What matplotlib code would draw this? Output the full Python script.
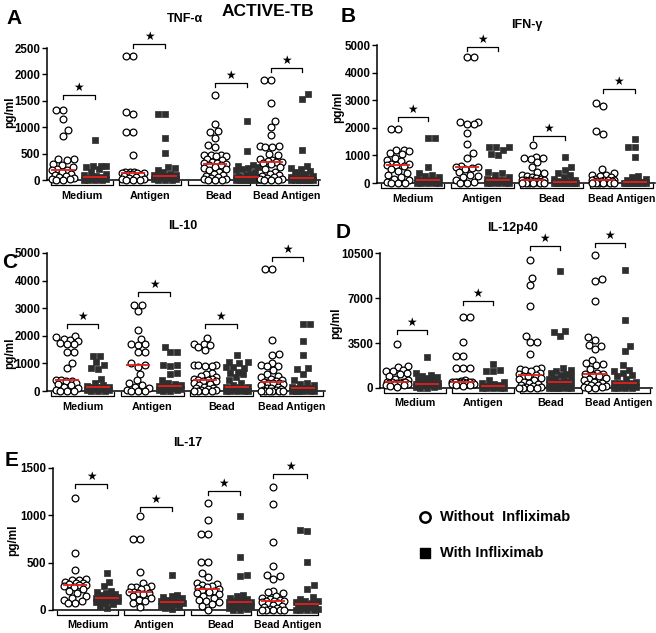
import matplotlib
matplotlib.use('Agg')
import matplotlib.pyplot as plt
import numpy as np
from matplotlib.transforms import ScaledTranslation

plt.rcParams['font.family'] = ['Liberation Sans', 'DejaVu Sans']

W, H = 656, 633

groups = ['Medium', 'Antigen', 'Bead', 'Bead Antigen']

# ---------------- data (pg/ml) ----------------
tnf_without = [
    [1320, 1320, 1150, 940, 840, 400, 390, 380, 300, 280, 250, 200, 190, 180, 150, 120, 100, 80, 60, 40, 20, 10, 5, 0],
    [2340, 2340, 1290, 1250, 910, 910, 470, 160, 150, 150, 140, 140, 130, 120, 110, 100, 80, 60, 40, 20, 10, 0, 0, 0],
    [1610, 1060, 920, 900, 800, 670, 630, 480, 470, 470, 460, 450, 400, 380, 350, 330, 320, 300, 290, 280, 250, 220, 200, 180, 150, 120, 100, 80, 60, 40, 20, 10, 0, 0, 0],
    [1900, 1900, 1450, 1110, 1000, 850, 650, 640, 630, 620, 500, 470, 400, 380, 360, 350, 340, 330, 300, 250, 200, 150, 120, 100, 80, 60, 40, 20, 10, 0, 0, 0],
]
tnf_with = [
    [760, 270, 270, 260, 250, 200, 150, 120, 100, 80, 60, 40, 30, 30, 20, 20, 10, 10, 5, 0, 0, 0],
    [1245, 1245, 790, 520, 250, 220, 180, 150, 120, 100, 90, 80, 70, 60, 50, 40, 30, 20, 10, 0, 0, 0],
    [1110, 540, 280, 260, 250, 230, 200, 180, 150, 120, 100, 80, 60, 50, 45, 40, 30, 20, 15, 10, 5, 0, 0, 0, 0, 0, 0],
    [1630, 1540, 570, 270, 220, 200, 170, 150, 120, 100, 80, 60, 40, 30, 30, 20, 10, 10, 5, 0, 0, 0, 0, 0, 0],
]
ifn_without = [
    [1950, 1950, 1200, 1200, 1150, 1080, 1050, 900, 850, 800, 700, 680, 650, 640, 600, 500, 450, 350, 300, 200, 150, 100, 50, 0, 0, 0],
    [4550, 4550, 2220, 2200, 2150, 2130, 1820, 1430, 1070, 920, 600, 590, 580, 560, 500, 400, 300, 250, 200, 100, 50, 0, 0],
    [1370, 950, 920, 900, 870, 760, 580, 400, 350, 300, 250, 200, 180, 150, 120, 110, 100, 100, 90, 80, 60, 50, 40, 30, 20, 10, 0, 0, 0, 0, 0],
    [2900, 2780, 1880, 1760, 500, 350, 300, 280, 250, 200, 150, 120, 110, 100, 100, 90, 80, 60, 40, 20, 10, 0, 0, 0, 0, 0],
]
ifn_with = [
    [1620, 1620, 580, 380, 300, 250, 200, 150, 120, 100, 100, 90, 80, 50, 30, 20, 10, 0, 0, 0, 0],
    [1320, 1300, 1290, 1200, 1050, 1020, 400, 350, 300, 200, 150, 120, 100, 100, 90, 80, 60, 40, 20, 0, 0, 0, 0, 0],
    [950, 580, 460, 350, 300, 200, 150, 100, 80, 60, 40, 35, 30, 20, 10, 0, 0, 0, 0, 0, 0, 0, 0],
    [1580, 1310, 1300, 940, 250, 200, 150, 100, 50, 40, 35, 30, 20, 10, 0, 0, 0, 0, 0, 0, 0],
]
il10_without = [
    [1980, 1950, 1900, 1850, 1820, 1750, 1720, 1700, 1420, 1400, 1030, 830, 400, 390, 380, 350, 300, 250, 200, 150, 100, 50, 0, 0, 0],
    [3110, 3100, 2890, 2200, 1900, 1720, 1700, 1660, 1420, 1400, 1000, 930, 870, 630, 400, 300, 200, 150, 100, 50, 0, 0, 0],
    [1930, 1720, 1700, 1650, 1580, 1480, 960, 950, 940, 920, 900, 640, 600, 530, 500, 450, 420, 400, 390, 380, 350, 300, 250, 200, 150, 120, 100, 80, 50, 20, 0, 0, 0, 0],
    [4430, 4430, 1840, 1350, 1300, 1000, 950, 920, 900, 750, 600, 550, 500, 450, 400, 350, 320, 300, 290, 280, 250, 200, 150, 120, 100, 80, 50, 30, 0, 0, 0, 0, 0, 0],
]
il10_with = [
    [1280, 1260, 1050, 930, 820, 800, 450, 300, 200, 180, 160, 150, 140, 120, 100, 80, 60, 40, 20, 0, 0, 0],
    [1590, 1420, 1400, 940, 930, 920, 640, 620, 400, 300, 250, 200, 180, 170, 160, 150, 120, 100, 80, 60, 40, 20, 0, 0],
    [1300, 1060, 1050, 1000, 880, 860, 850, 700, 650, 600, 500, 400, 300, 200, 145, 140, 130, 120, 110, 100, 80, 60, 40, 20, 0, 0, 0, 0, 0],
    [2420, 2410, 1810, 1290, 820, 800, 630, 400, 300, 250, 200, 150, 120, 110, 100, 80, 60, 40, 20, 0, 0, 0, 0, 0, 0],
]
il12_without = [
    [3420, 1700, 1600, 1400, 1350, 1300, 1200, 1100, 900, 700, 600, 500, 450, 440, 430, 420, 400, 380, 350, 300, 250, 200, 150, 100],
    [5500, 5500, 3550, 2460, 2460, 1560, 1560, 1560, 600, 550, 500, 480, 470, 460, 450, 430, 400, 380, 350, 300, 250, 200, 150],
    [9980, 8560, 8040, 6400, 4020, 3600, 3560, 2650, 1560, 1500, 1450, 1400, 1300, 1200, 1100, 1000, 960, 900, 800, 700, 600, 500, 400, 300, 200, 150, 100, 50, 0, 0, 0, 0],
    [10320, 8450, 8350, 6740, 3940, 3760, 3320, 3300, 3000, 2200, 1950, 1900, 1800, 1500, 1200, 1120, 1100, 1000, 900, 800, 700, 600, 500, 400, 300, 250, 200, 150, 100, 50, 0, 0],
]
il12_with = [
    [2410, 1170, 1000, 900, 850, 800, 700, 600, 500, 400, 350, 320, 310, 300, 250, 200, 150, 100, 50, 0, 0],
    [1870, 1400, 1350, 1300, 600, 500, 400, 300, 200, 150, 130, 120, 100, 80, 50, 30, 0, 0, 0, 0],
    [9130, 4460, 4360, 4070, 1560, 1400, 1300, 1200, 1100, 1000, 900, 800, 700, 600, 500, 450, 440, 430, 400, 350, 300, 250, 200, 150, 100, 50, 0, 0, 0, 0, 0, 0],
    [9200, 5260, 3240, 2900, 1760, 1430, 1300, 1170, 1000, 900, 700, 500, 400, 390, 380, 300, 250, 200, 150, 100, 50, 0, 0, 0, 0],
]
il17_without = [
    [1180, 600, 420, 330, 320, 320, 300, 290, 280, 270, 265, 260, 250, 240, 220, 200, 180, 150, 130, 110, 100, 70, 70],
    [995, 750, 750, 405, 280, 250, 245, 240, 230, 220, 190, 185, 180, 175, 170, 150, 130, 110, 90, 70, 35],
    [1135, 955, 805, 800, 510, 505, 395, 350, 280, 270, 260, 250, 240, 230, 220, 210, 200, 190, 180, 170, 150, 130, 110, 100, 80, 60, 40, 0],
    [1295, 1120, 715, 460, 365, 355, 325, 200, 190, 180, 150, 130, 120, 110, 100, 95, 90, 80, 70, 60, 50, 40, 30, 20, 10, 0, 0, 0, 0, 0],
]
il17_with = [
    [395, 300, 250, 200, 190, 180, 170, 160, 150, 140, 130, 125, 120, 110, 100, 90, 80, 70, 60, 40, 20],
    [375, 160, 150, 140, 130, 110, 100, 90, 85, 80, 75, 70, 60, 50, 40, 30, 20, 10],
    [995, 565, 365, 360, 160, 150, 130, 120, 110, 100, 90, 85, 80, 75, 70, 60, 50, 40, 30, 20, 10, 0, 0],
    [850, 830, 510, 260, 225, 140, 120, 100, 90, 80, 70, 65, 60, 50, 40, 30, 20, 10, 0, 0, 0, 0],
]

# significance bracket heights (pg/ml)
tnf_sig = [1615, 2575, 1835, 2120]
ifn_sig = [2400, 4940, 1695, 3390]
il10_sig = [2440, 3590, 2440, 4855]
il12_sig = [4485, 6740, 11020, 11280]
il17_sig = [1335, 1087, 1260, 1440]

tnf_ticks = [0, 500, 1000, 1500, 2000, 2500]
ifn_ticks = [0, 1000, 2000, 3000, 4000, 5000]
il10_ticks = [0, 1000, 2000, 3000, 4000, 5000]
il12_ticks = [0, 3500, 7000, 10500]
il17_ticks = [0, 500, 1000, 1500]

panels = [
    dict(letter='A', title='TNF-α', wo=tnf_without, w=tnf_with, sig=tnf_sig, ticks=tnf_ticks,
         box=(47, 48, 320, 180), cx=[0.23, 1.26, 2.46, 3.28], sx=[0.70, 1.73, 2.93, 3.74],
         let_xy=(14, 19), tit_xy=(185, 19), yl_xy=(10, 112)),
    dict(letter='B', title='IFN-γ', wo=ifn_without, w=ifn_with, sig=ifn_sig, ticks=ifn_ticks,
         box=(377, 45, 655, 183), cx=[0.30, 1.29, 2.24, 3.25], sx=[0.73, 1.74, 2.70, 3.71],
         let_xy=(348, 16), tit_xy=(527, 25), yl_xy=(338, 107)),
    dict(letter='C', title='IL-10', wo=il10_without, w=il10_with, sig=il10_sig, ticks=il10_ticks,
         box=(47, 253, 325, 391), cx=[0.29, 1.31, 2.27, 3.24], sx=[0.73, 1.77, 2.73, 3.68],
         let_xy=(10, 262), tit_xy=(183, 226), yl_xy=(10, 353)),
    dict(letter='D', title='IL-12p40', wo=il12_without, w=il12_with, sig=il12_sig, ticks=il12_ticks,
         box=(380, 253, 652, 388), cx=[0.25, 1.22, 2.20, 3.16], sx=[0.69, 1.66, 2.65, 3.60],
         let_xy=(343, 233), tit_xy=(513, 228), yl_xy=(336, 323)),
    dict(letter='E', title='IL-17', wo=il17_without, w=il17_with, sig=il17_sig, ticks=il17_ticks,
         box=(53, 468, 320, 610), cx=[0.33, 1.30, 2.32, 3.30], sx=[0.81, 1.78, 2.80, 3.81],
         let_xy=(12, 460), tit_xy=(188, 443), yl_xy=(13, 540)),
]

fig = plt.figure(figsize=(W / 100, H / 100), dpi=100)


def fx(px):
    return px / W


def fy(py):
    return 1 - py / H


def find_offset(y, placed, d, maxoff):
    best_c, best_md = 0.0, -1.0
    k = 0
    flip = len(placed) % 2 == 1
    while k * 0.5 <= maxoff:
        cands = [0.0] if k == 0 else [k * 0.5, -k * 0.5]
        if flip:
            cands = cands[::-1]
        for c in cands:
            md = min([np.hypot(c - px, y - py) for px, py in placed] + [1e9])
            if md >= d:
                return c
            if md > best_md + 1e-9:
                best_md, best_c = md, c
        k += 1
    return best_c


def swarm(vals, ppu_y, d, maxoff):
    vals = np.asarray(vals, float)
    order = np.argsort(vals, kind='stable')
    placed = []
    offs = np.zeros(len(vals))
    for i in order:
        y = vals[i] * ppu_y
        c = find_offset(y, placed, d, maxoff)
        placed.append((c, y))
        offs[i] = c
    return offs


RED = '#e3201b'
SQ = '#2e2e2e'
D_PX = 7.0
MAXOFF = 11.0

for p in panels:
    l, t, r, b = p['box']
    ax = fig.add_axes([fx(l), fy(b), (r - l) / W, (b - t) / H])
    ymax = p['ticks'][-1]
    ax.set_xlim(0, 4)
    ax.set_ylim(0, ymax)
    ppu_y = (b - t) / ymax
    ppu_x = (r - l) / 4.0
    for sp in ['top', 'right']:
        ax.spines[sp].set_visible(False)
    for sp in ['left', 'bottom']:
        ax.spines[sp].set_linewidth(1.1)
    ax.set_xticks([])
    ax.set_yticks(p['ticks'])
    ax.set_yticklabels([str(v) for v in p['ticks']])
    ax.tick_params(axis='y', length=3.5, width=1.0, pad=1.2, labelsize=8.3)
    for lab in ax.get_yticklabels():
        lab.set_fontweight('bold')

    for gi in range(4):
        vw = p['wo'][gi]
        vs = p['w'][gi]
        ow = swarm(vw, ppu_y, D_PX, MAXOFF) / ppu_x
        os_ = swarm(vs, ppu_y, D_PX, MAXOFF) / ppu_x
        ax.scatter(p['cx'][gi] + ow, vw, s=24, marker='o', facecolors='white',
                   edgecolors='black', linewidths=0.9, zorder=3, clip_on=False)
        ax.scatter(p['sx'][gi] + os_, vs, s=22, marker='s', facecolors=SQ,
                   edgecolors=SQ, linewidths=0.5, zorder=3, clip_on=False)
        hw = 12.0 / ppu_x
        mw = np.median(vw)
        ms = np.median(vs)
        ax.plot([p['cx'][gi] - hw, p['cx'][gi] + hw], [mw, mw], color=RED, lw=1.3,
                zorder=4, clip_on=False, solid_capstyle='butt')
        ax.plot([p['sx'][gi] - hw, p['sx'][gi] + hw], [ms, ms], color=RED, lw=1.3,
                zorder=4, clip_on=False, solid_capstyle='butt')
        # significance bracket
        h = p['sig'][gi]
        tick = 4.0 / ppu_y
        x1, x2 = p['cx'][gi], p['sx'][gi]
        ax.plot([x1, x1, x2, x2], [h - tick, h, h, h - tick], color='black', lw=0.9,
                clip_on=False, zorder=2)
        ax.text((x1 + x2) / 2, h + 1.0 / ppu_y, '★', ha='center', va='bottom',
                fontsize=8.5, family='DejaVu Sans', clip_on=False)
        # group label bracket below axis
        tr = ax.get_xaxis_transform() + ScaledTranslation(0, -0.045, fig.dpi_scale_trans)
        g0, g1 = gi + 0.06, gi + 0.97
        ax.plot([g0, g0, g1, g1], [4.0 / (b - t), 0, 0, 4.0 / (b - t)], color='black',
                lw=0.9, transform=tr, clip_on=False)
        tr2 = ax.get_xaxis_transform() + ScaledTranslation(0, -0.105, fig.dpi_scale_trans)
        ax.text((g0 + g1) / 2, 0, groups[gi], transform=tr2, ha='center', va='top',
                fontsize=7.8 if gi < 3 else 7.6, fontweight='bold', clip_on=False)

    # texts
    fig.text(fx(p['let_xy'][0]), fy(p['let_xy'][1]), p['letter'], ha='center', va='center',
             fontsize=15, fontweight='bold')
    fig.text(fx(p['tit_xy'][0]), fy(p['tit_xy'][1]), p['title'], ha='center', va='center',
             fontsize=9, fontweight='bold')
    fig.text(fx(p['yl_xy'][0]), fy(p['yl_xy'][1]), 'pg/ml', ha='center', va='center',
             rotation=90, fontsize=8.5, fontweight='bold')

fig.text(fx(268), fy(11), 'ACTIVE-TB', ha='center', va='center', fontsize=12.5,
         fontweight='bold')

# legend
lax = fig.add_axes([0, 0, 1, 1], facecolor='none')
lax.set_xlim(0, W)
lax.set_ylim(H, 0)
lax.axis('off')
lax.scatter([425], [517], s=55, marker='o', facecolors='white', edgecolors='black',
            linewidths=1.8)
lax.scatter([425], [553], s=60, marker='s', facecolors='black', edgecolors='black')
lax.text(440, 517, 'Without  Infliximab', ha='left', va='center', fontsize=10.5,
         fontweight='bold')
lax.text(440, 553, 'With Infliximab', ha='left', va='center', fontsize=10.5,
         fontweight='bold')

fig.savefig('out.png', dpi=100)
